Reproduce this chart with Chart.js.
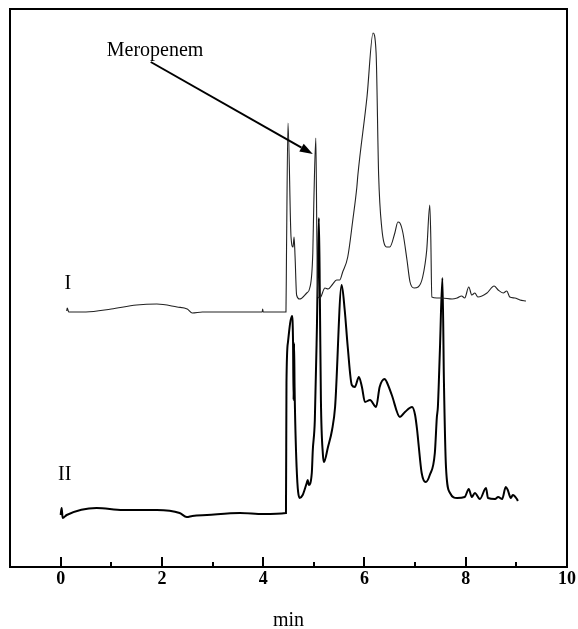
<!DOCTYPE html>
<html>
<head>
<meta charset="utf-8">
<script src="https://cdn.jsdelivr.net/npm/chart.js@4.4.1/dist/chart.umd.min.js"></script>
<style>
  html, body { margin: 0; padding: 0; background: #fff; }
  #wrap { width: 578px; height: 629px; position: relative; }
</style>
</head>
<body>
<div id="wrap"><canvas id="c" width="578" height="629"></canvas></div>
<script>
// ---- data (time in min, detector signal in arbitrary units) ----
const traceI_time = [0.12,0.13,0.16,0.5,1.0,1.5,1.9,2.3,2.5,2.6,2.8,3.5,3.98,3.99,4.0,4.45,4.46,4.49,4.55,4.59,4.61,4.63,4.66,4.72,4.86,4.92,4.98,5.0,5.04,5.06,5.08,5.12,5.22,5.28,5.36,5.45,5.51,5.57,5.67,5.77,5.85,5.87,6.05,6.17,6.23,6.28,6.34,6.44,6.50,6.60,6.66,6.70,6.76,6.84,6.90,6.98,7.06,7.15,7.23,7.29,7.31,7.33,7.43,7.53,7.73,7.83,7.92,7.98,8.06,8.12,8.18,8.24,8.42,8.56,8.64,8.74,8.81,8.87,8.97,9.07,9.19];
const traceI_signal = [256,259,255,255,258,262,263,260,258,254,255,255,255,258,255,255,311,444,330,320,330,310,272,268,274,279,314,364,429,330,270,269,279,278,282,287,287,295,310,347,380,392,470,534,514,392,340,320,320,334,345,344,334,307,285,279,280,290,317,362,330,270,269,269,268,269,271,269,280,272,274,270,274,281,277,274,276,270,269,267,266];

const traceII_time = [0.0,0.02,0.04,0.12,0.71,1.23,1.9,2.35,2.49,2.6,2.89,3.54,4.0,4.45,4.46,4.49,4.57,4.59,4.60,4.61,4.62,4.66,4.72,4.78,4.86,4.88,4.90,4.96,4.98,5.02,5.06,5.10,5.12,5.14,5.18,5.20,5.28,5.36,5.42,5.55,5.61,5.67,5.75,5.81,5.89,5.95,6.01,6.11,6.23,6.30,6.40,6.44,6.54,6.70,6.80,6.94,7.00,7.04,7.06,7.13,7.21,7.29,7.39,7.43,7.45,7.49,7.54,7.57,7.61,7.69,7.83,7.98,8.06,8.12,8.18,8.28,8.40,8.44,8.58,8.64,8.72,8.79,8.83,8.89,8.93,9.01,9.03];
const traceII_signal = [52,59,49,52,59,57,57,54,50,51,52,54,53,54,184,225,251,224,167,224,180,100,69,72,84,87,82,94,117,147,237,349,267,167,112,105,120,137,160,282,257,220,182,180,190,180,165,167,160,180,188,185,172,150,155,160,152,137,127,94,85,92,114,150,160,217,289,184,100,74,69,70,78,70,74,68,79,69,68,70,68,80,77,69,72,68,66];

const xTickLabels = [0, 2, 4, 6, 8, 10];
const xMinorTicks = [1, 3, 5, 7, 9];
const traceLabels = ["I", "II"];
const annotationText = "Meropenem";

const toPts = (t, s) => t.map((v, i) => ({ x: v, y: s[i] }));

const SERIF = '"Liberation Serif", "Times New Roman", serif';

const framePlugin = {
  id: 'frame',
  afterDraw(chart) {
    const { ctx, chartArea: a, scales: { x, y } } = chart;
    ctx.save();
    ctx.strokeStyle = '#000';
    ctx.lineWidth = 2;
    ctx.strokeRect(a.left, a.top, a.right - a.left, a.bottom - a.top);
    xTickLabels.forEach(v => {
      const px = Math.round(x.getPixelForValue(v));
      ctx.beginPath(); ctx.moveTo(px, a.bottom); ctx.lineTo(px, a.bottom - 10); ctx.stroke();
    });
    xMinorTicks.forEach(v => {
      const px = Math.round(x.getPixelForValue(v));
      ctx.beginPath(); ctx.moveTo(px, a.bottom); ctx.lineTo(px, a.bottom - 5); ctx.stroke();
    });
    ctx.fillStyle = '#000';
    ctx.font = '20px ' + SERIF;
    ctx.textAlign = 'center';
    ctx.textBaseline = 'alphabetic';
    ctx.fillText(traceLabels[0], x.getPixelForValue(0.14), y.getPixelForValue(278));
    ctx.fillText(traceLabels[1], x.getPixelForValue(0.08), y.getPixelForValue(87));
    ctx.textAlign = 'left';
    ctx.fillText(annotationText, x.getPixelForValue(0.91), y.getPixelForValue(511));
    const x0 = x.getPixelForValue(1.78), y0 = y.getPixelForValue(505);
    const x1 = x.getPixelForValue(4.98), y1 = y.getPixelForValue(413);
    const ang = Math.atan2(y1 - y0, x1 - x0);
    const hl = 13, hw = 4.5;
    const bx = x1 - hl * Math.cos(ang), by = y1 - hl * Math.sin(ang);
    ctx.lineWidth = 2;
    ctx.beginPath(); ctx.moveTo(x0, y0); ctx.lineTo(bx, by); ctx.stroke();
    ctx.beginPath();
    ctx.moveTo(x1, y1);
    ctx.lineTo(bx + hw * Math.sin(ang), by - hw * Math.cos(ang));
    ctx.lineTo(bx - hw * Math.sin(ang), by + hw * Math.cos(ang));
    ctx.closePath(); ctx.fill();
    ctx.restore();
  }
};

new Chart(document.getElementById('c'), {
  type: 'line',
  data: {
    datasets: [
      { label: traceLabels[0], data: toPts(traceI_time, traceI_signal),
        borderColor: '#222', borderWidth: 1.1, pointRadius: 0, fill: false,
        cubicInterpolationMode: 'monotone' },
      { label: traceLabels[1], data: toPts(traceII_time, traceII_signal),
        borderColor: '#000', borderWidth: 2, pointRadius: 0, fill: false,
        cubicInterpolationMode: 'monotone' }
    ]
  },
  options: {
    responsive: false,
    animation: false,
    events: [],
    layout: { padding: { left: 10, right: 11, top: 9, bottom: 0 } },
    plugins: { legend: { display: false }, tooltip: { enabled: false } },
    scales: {
      x: {
        type: 'linear', min: -1, max: 10,
        border: { display: false },
        grid: { display: false, drawTicks: false },
        afterBuildTicks: s => { s.ticks = xTickLabels.map(v => ({ value: v })); },
        afterFit: s => { s.height = 62; },
        ticks: { color: '#000', padding: 2, maxRotation: 0, autoSkip: false,
                 font: { family: SERIF, size: 18, weight: 'bold' } },
        title: { display: true, text: 'min', color: '#000', padding: 0,
                 font: { family: SERIF, size: 20, lineHeight: '16px' } }
      },
      y: { display: false, min: 0, max: 558 }
    }
  },
  plugins: [framePlugin]
});
</script>
</body>
</html>
